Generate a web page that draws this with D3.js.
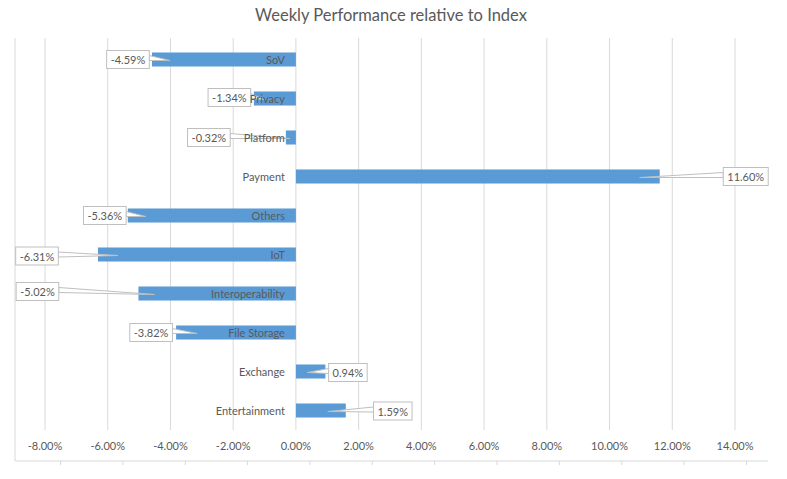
<!DOCTYPE html>
<html>
<head>
<meta charset="utf-8">
<script src="https://cdn.jsdelivr.net/npm/d3@7"></script>
<style>
  html, body { margin: 0; padding: 0; background: #fff; }
  svg { display: block; font-family: Lato, "Open Sans", sans-serif; }
</style>
</head>
<body>
<svg id="chart" width="787" height="479"></svg>
<script>
// ---- data ----
const categories = ["SoV", "Privacy", "Platform", "Payment", "Others", "IoT",
                    "Interoperability", "File Storage", "Exchange", "Entertainment"];
const values = [-4.59, -1.34, -0.32, 11.60, -5.36, -6.31, -5.02, -3.82, 0.94, 1.59];
const tickValues = [-8, -6, -4, -2, 0, 2, 4, 6, 8, 10, 12, 14];
const title = "Weekly Performance relative to Index";

// ---- layout for callout labels (offsets from bar end, px) ----
const boxDx  = [-24, -24.5, -77, 86, -23, -61, -101, -25, 22.5, 47];
const boxDy  = [0, -1, 0, 0, 0, 1.5, -2, 0, 1, 0.5];
const tipDx  = [18, 10, 4, -20, 18, 20, 16, 21, -18, -18];

const svg = d3.select("#chart");
const gridColor = "#d9d9d9";
const textColor = "#595959";
const pct = v => d3.format(".2f")(v).replace("\u2212", "-") + "%";

const x = d3.scaleLinear().domain([-8, 14]).range([45, 735]);
const y = d3.scaleBand().domain(categories).range([40, 430]).paddingInner(0.64).paddingOuter(0.32);

const plotLeft = 15, plotRight = 768, gridTop = 38, gridBottom = 430, axisY = 461;

// title
svg.append("text").attr("x", 391).attr("y", 21)
  .attr("text-anchor", "middle").attr("font-size", 16.5).attr("fill", textColor)
  .text(title);

// gridlines
svg.append("g").selectAll("line").data(tickValues).join("line")
  .attr("x1", d => x(d)).attr("x2", d => x(d))
  .attr("y1", gridTop).attr("y2", gridBottom)
  .attr("stroke", gridColor).attr("stroke-width", 1);

// left frame line
svg.append("line").attr("x1", plotLeft).attr("x2", plotLeft)
  .attr("y1", gridTop).attr("y2", axisY)
  .attr("stroke", gridColor);

// tick labels
svg.append("g").selectAll("text").data(tickValues).join("text")
  .attr("x", d => x(d)).attr("y", 445)
  .attr("text-anchor", "middle").attr("dominant-baseline", "central")
  .attr("font-size", 11).attr("fill", textColor)
  .text(d => pct(d));

// bottom axis line with offset ticks
const bottomAxis = d3.axisBottom(d3.scaleLinear().domain([-8, 14]).range([x(-8) + 15, x(14) + 11]))
  .tickValues(tickValues).tickSize(4).tickFormat("");
const ba = svg.append("g").attr("transform", `translate(0,${axisY})`).call(bottomAxis);
ba.select(".domain").remove();
ba.selectAll(".tick line").attr("stroke", gridColor);
svg.append("line").attr("x1", plotLeft).attr("x2", plotRight)
  .attr("y1", axisY).attr("y2", axisY).attr("stroke", gridColor);

// bars
svg.append("g").selectAll("rect").data(categories).join("rect")
  .attr("x", (d, i) => Math.min(x(0), x(values[i])))
  .attr("width", (d, i) => Math.abs(x(values[i]) - x(0)))
  .attr("y", d => y(d))
  .attr("height", y.bandwidth())
  .attr("fill", "#5b9bd5");

// callout data labels
const lg = svg.append("g");
categories.forEach((c, i) => {
  const v = values[i];
  const endX = x(v);
  const cy = y(c) + y.bandwidth() / 2;
  const bx = endX + boxDx[i];
  const by = cy + boxDy[i];
  const label = pct(v);
  const t = lg.append("text").attr("x", bx).attr("y", by)
    .attr("text-anchor", "middle").attr("dominant-baseline", "central")
    .attr("font-size", 11).attr("fill", textColor).text(label);
  const w = t.node().getComputedTextLength() + 8;
  const h = 18;
  const tipX = endX + tipDx[i], tipY = cy + 1;
  const edgeX = tipX > bx ? bx + w / 2 : bx - w / 2;
  const wedge = d3.path();
  wedge.moveTo(tipX, tipY);
  wedge.lineTo(edgeX, by - 4);
  wedge.lineTo(edgeX, by + 1);
  wedge.closePath();
  lg.insert("path", "text").attr("d", wedge.toString())
    .attr("fill", "#fff").attr("stroke", "#bfbfbf").attr("stroke-width", 1);
  lg.insert("rect", "text").attr("x", bx - w / 2).attr("y", by - h / 2)
    .attr("width", w).attr("height", h)
    .attr("fill", "#fff").attr("stroke", "#bfbfbf").attr("stroke-width", 1);
  t.raise();
});

// category labels (drawn on top)
svg.append("g").selectAll("text").data(categories).join("text")
  .attr("x", x(0) - 11).attr("y", d => y(d) + y.bandwidth() / 2)
  .attr("text-anchor", "end").attr("dominant-baseline", "central")
  .attr("font-size", 11).attr("fill", textColor)
  .text(d => d);
</script>
</body>
</html>
